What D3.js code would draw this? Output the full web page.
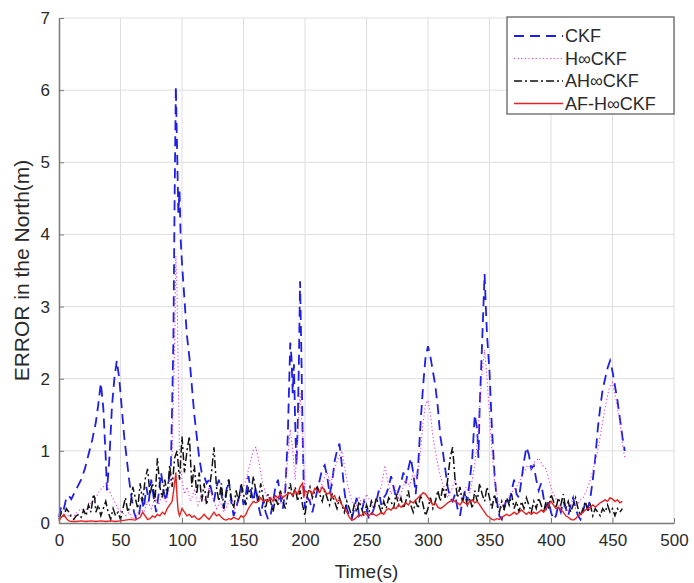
<!DOCTYPE html>
<html>
<head>
<meta charset="utf-8">
<script src="https://cdn.jsdelivr.net/npm/d3@7"></script>
<style>
  body { margin: 0; background: #fff; }
  text { font-family: "Liberation Sans", Arial, sans-serif; }
</style>
</head>
<body>
<div id="chart"></div>
<script>
// series: [time (s), error (m)]
const ckf = [[0,0.08],[2,0.25],[4,0.2],[6,0.35],[8,0.38],[10,0.33],[12,0.4],[15,0.5],[18,0.6],[21,0.75],[24,0.95],[27,1.15],[30,1.4],[32,1.65],[34,1.94],[36,1.6],[38,0.9],[39,0.45],[41,0.9],[43,1.6],[45,2.0],[47,2.25],[49,2.0],[51,1.6],[53,1.2],[55,0.9],[57,0.6],[59,0.35],[61,0.15],[63,0.05],[65,0.1],[67,0.35],[69,0.2],[71,0.5],[73,0.3],[75,0.6],[77,0.35],[79,0.15],[81,0.4],[83,0.7],[85,0.45],[87,0.3],[89,0.55],[91,0.8],[93,2.5],[94,4.5],[95,6.05],[96,5.2],[97,4.3],[98,4.6],[99,3.9],[100,3.6],[102,3.1],[104,2.6],[106,2.3],[108,1.9],[110,1.5],[112,1.2],[114,0.9],[116,0.7],[118,0.65],[120,0.55],[122,0.6],[124,0.45],[126,0.3],[128,0.5],[130,0.6],[132,0.4],[134,0.2],[136,0.45],[138,0.6],[140,0.3],[142,0.1],[144,0.2],[146,0.35],[148,0.5],[150,0.25],[152,0.4],[154,0.65],[156,0.45],[158,0.3],[160,0.5],[162,0.25],[164,0.1],[166,0.3],[168,0.15],[170,0.05],[172,0.1],[174,0.3],[176,0.5],[178,0.6],[180,0.35],[182,0.2],[184,0.45],[186,1.2],[188,2.5],[189,2.3],[190,1.8],[191,2.2],[192,1.4],[193,0.8],[194,1.3],[195,2.2],[196,3.35],[197,2.4],[198,1.3],[199,0.5],[200,0.2],[202,0.35],[204,0.3],[206,0.15],[208,0.3],[210,0.45],[212,0.6],[214,0.75],[216,0.8],[218,0.65],[220,0.4],[222,0.55],[224,0.85],[226,1.0],[228,1.1],[230,0.8],[232,0.45],[234,0.2],[236,0.1],[238,0.05],[240,0.2],[242,0.35],[244,0.1],[246,0.15],[248,0.3],[250,0.2],[252,0.05],[254,0.1],[256,0.2],[258,0.3],[260,0.45],[262,0.25],[264,0.35],[266,0.4],[268,0.5],[270,0.65],[272,0.5],[274,0.35],[276,0.45],[278,0.55],[280,0.7],[282,0.55],[284,0.75],[286,0.9],[288,0.7],[290,0.4],[292,0.8],[294,1.4],[296,1.9],[298,2.3],[300,2.45],[302,2.3],[304,2.1],[306,1.9],[308,1.6],[310,1.2],[312,1.0],[314,0.75],[316,0.5],[318,0.35],[320,0.3],[322,0.4],[324,0.2],[326,0.1],[328,0.3],[330,0.45],[332,0.3],[334,0.6],[336,0.9],[338,1.5],[340,1.3],[341,0.9],[342,1.6],[344,2.5],[346,3.45],[347,3.0],[348,2.6],[350,2.1],[352,1.3],[354,0.7],[356,0.3],[358,0.1],[360,0.05],[362,0.2],[364,0.35],[366,0.3],[368,0.45],[370,0.6],[372,0.4],[374,0.35],[376,0.6],[378,0.85],[380,1.05],[382,0.95],[384,0.75],[386,0.8],[388,0.6],[390,0.45],[392,0.55],[394,0.35],[396,0.2],[398,0.3],[400,0.15],[402,0.05],[404,0.1],[406,0.25],[408,0.15],[410,0.3],[412,0.2],[414,0.1],[416,0.25],[418,0.35],[420,0.2],[422,0.1],[424,0.05],[426,0.15],[428,0.3],[430,0.2],[432,0.35],[434,0.6],[436,0.9],[438,1.3],[440,1.6],[442,1.85],[444,2.0],[446,2.15],[448,2.25],[450,2.1],[452,1.9],[454,1.7],[456,1.45],[458,1.2],[460,1.0]];

const hinf = [[0,0.05],[3,0.1],[6,0.08],[9,0.12],[12,0.1],[15,0.15],[18,0.2],[21,0.15],[24,0.25],[27,0.3],[30,0.35],[33,0.45],[36,0.5],[39,0.55],[42,0.4],[45,0.3],[48,0.2],[51,0.15],[54,0.1],[57,0.15],[60,0.05],[63,0.1],[66,0.2],[69,0.15],[72,0.3],[75,0.2],[78,0.35],[81,0.25],[84,0.4],[87,0.3],[90,0.5],[92,1.0],[94,2.5],[95,3.7],[96,3.2],[97,2.0],[98,1.0],[100,0.6],[102,0.4],[104,0.5],[107,0.3],[110,0.45],[113,0.25],[116,0.4],[119,0.3],[122,0.5],[125,0.35],[128,0.2],[131,0.3],[134,0.15],[137,0.25],[140,0.35],[143,0.2],[146,0.3],[149,0.45],[152,0.6],[155,0.8],[158,1.0],[160,1.05],[162,0.9],[165,0.6],[168,0.4],[171,0.3],[174,0.2],[177,0.35],[180,0.25],[183,0.4],[186,0.9],[188,1.3],[190,1.0],[192,0.6],[194,1.2],[196,1.8],[198,1.2],[200,0.4],[203,0.3],[206,0.35],[209,0.5],[212,0.45],[215,0.6],[218,0.7],[221,0.55],[224,0.75],[227,0.9],[230,1.0],[232,0.8],[235,0.5],[238,0.3],[241,0.2],[244,0.35],[247,0.25],[250,0.4],[253,0.3],[256,0.2],[259,0.35],[262,0.5],[265,0.8],[267,0.6],[270,0.4],[273,0.5],[276,0.35],[279,0.45],[282,0.6],[285,0.5],[288,0.7],[291,0.6],[294,1.0],[296,1.4],[298,1.65],[300,1.7],[302,1.5],[304,1.2],[307,0.9],[310,0.65],[313,0.5],[316,0.35],[319,0.45],[322,0.6],[325,0.45],[328,0.3],[331,0.5],[334,0.4],[337,0.7],[340,1.1],[342,1.6],[344,2.1],[346,2.4],[348,2.0],[350,1.5],[352,1.0],[354,0.6],[357,0.3],[360,0.2],[363,0.3],[366,0.35],[369,0.45],[372,0.5],[375,0.6],[378,0.7],[381,0.8],[384,0.75],[387,0.85],[390,0.9],[393,0.8],[396,0.75],[399,0.55],[402,0.4],[405,0.3],[408,0.2],[411,0.25],[414,0.15],[417,0.3],[420,0.2],[423,0.3],[426,0.35],[429,0.45],[432,0.6],[435,0.8],[438,1.0],[441,1.3],[444,1.6],[447,1.85],[450,1.95],[453,1.7],[456,1.4],[458,1.1],[460,0.9]];

const ahinf = [[0,0.05],[2,0.15],[4,0.1],[6,0.2],[8,0.15],[10,0.08],[12,0.05],[14,0.1],[16,0.12],[18,0.08],[20,0.18],[22,0.1],[24,0.25],[26,0.15],[28,0.4],[29,0.35],[30,0.15],[32,0.25],[34,0.1],[36,0.2],[38,0.3],[40,0.15],[42,0.05],[44,0.2],[46,0.1],[48,0.15],[50,0.05],[52,0.2],[54,0.35],[56,0.15],[58,0.25],[60,0.5],[62,0.35],[64,0.2],[66,0.55],[68,0.3],[70,0.6],[72,0.75],[74,0.4],[76,0.55],[78,0.3],[80,0.9],[82,0.5],[84,0.35],[86,0.6],[88,0.4],[90,0.8],[92,0.5],[94,0.9],[96,1.0],[98,0.6],[100,1.2],[102,0.7],[104,1.0],[106,1.2],[108,0.5],[110,0.8],[112,0.4],[114,0.7],[116,0.3],[118,0.55],[120,0.25],[122,0.45],[124,0.7],[126,1.05],[128,0.5],[130,0.3],[132,0.55],[134,0.2],[136,0.4],[138,0.6],[140,0.35],[142,0.2],[144,0.45],[146,0.3],[148,0.55],[150,0.4],[152,0.25],[154,0.5],[156,0.35],[158,0.65],[160,0.45],[162,0.3],[164,0.55],[166,0.35],[168,0.2],[170,0.4],[172,0.3],[174,0.15],[176,0.35],[178,0.25],[180,0.45],[182,0.3],[184,0.2],[186,0.4],[188,0.55],[190,0.35],[192,0.5],[194,0.3],[196,0.45],[198,0.25],[200,0.1],[202,0.4],[204,0.5],[206,0.35],[208,0.45],[210,0.5],[212,0.4],[214,0.3],[216,0.45],[218,0.35],[220,0.25],[222,0.4],[224,0.3],[226,0.2],[228,0.35],[230,0.25],[232,0.15],[234,0.3],[236,0.2],[238,0.1],[240,0.25],[242,0.15],[244,0.3],[246,0.2],[248,0.1],[250,0.25],[252,0.15],[254,0.3],[256,0.2],[258,0.35],[260,0.25],[262,0.15],[264,0.3],[266,0.2],[268,0.35],[270,0.3],[272,0.2],[274,0.4],[276,0.25],[278,0.35],[280,0.2],[282,0.3],[284,0.45],[286,0.25],[288,0.15],[290,0.3],[292,0.2],[294,0.4],[296,0.25],[298,0.1],[300,0.2],[302,0.35],[304,0.2],[306,0.3],[308,0.45],[310,0.3],[312,0.5],[314,0.35],[316,0.6],[318,0.9],[320,1.05],[322,0.6],[324,0.35],[326,0.5],[328,0.3],[330,0.4],[332,0.25],[334,0.35],[336,0.2],[338,0.45],[340,0.3],[342,0.55],[344,0.4],[346,0.3],[348,0.5],[350,0.35],[352,0.2],[354,0.4],[356,0.25],[358,0.15],[360,0.3],[362,0.2],[364,0.35],[366,0.25],[368,0.4],[370,0.2],[372,0.3],[374,0.15],[376,0.3],[378,0.2],[380,0.35],[382,0.25],[384,0.15],[386,0.3],[388,0.2],[390,0.35],[392,0.25],[394,0.15],[396,0.3],[398,0.2],[400,0.4],[402,0.3],[404,0.2],[406,0.35],[408,0.25],[410,0.4],[412,0.2],[414,0.3],[416,0.15],[418,0.25],[420,0.35],[422,0.2],[424,0.1],[426,0.2],[428,0.3],[430,0.15],[432,0.25],[434,0.1],[436,0.2],[438,0.15],[440,0.1],[442,0.2],[444,0.15],[446,0.25],[448,0.15],[450,0.2],[452,0.1],[454,0.2],[456,0.15],[458,0.2]];

const afhinf = [[0,0.03],[2,0.08],[4,0.12],[6,0.06],[8,0.03],[10,0.02],[14,0.02],[18,0.03],[22,0.02],[26,0.03],[30,0.02],[34,0.03],[38,0.02],[42,0.03],[46,0.02],[50,0.03],[54,0.04],[58,0.05],[62,0.04],[66,0.08],[68,0.15],[70,0.1],[72,0.05],[74,0.06],[76,0.1],[78,0.08],[80,0.12],[82,0.1],[84,0.15],[86,0.12],[88,0.2],[90,0.25],[92,0.3],[94,0.55],[95,0.7],[96,0.35],[97,0.15],[98,0.1],[100,0.2],[102,0.15],[104,0.1],[106,0.12],[108,0.08],[110,0.1],[112,0.06],[114,0.05],[116,0.08],[118,0.12],[120,0.08],[122,0.05],[124,0.1],[126,0.15],[128,0.1],[130,0.12],[132,0.08],[134,0.05],[136,0.04],[138,0.06],[140,0.05],[142,0.08],[144,0.06],[146,0.05],[148,0.1],[150,0.08],[152,0.12],[154,0.2],[156,0.25],[158,0.3],[160,0.28],[162,0.3],[164,0.35],[166,0.3],[168,0.32],[170,0.3],[172,0.35],[174,0.3],[176,0.38],[178,0.35],[180,0.4],[182,0.35],[184,0.38],[186,0.4],[188,0.42],[190,0.38],[192,0.45],[194,0.4],[196,0.5],[198,0.55],[199,0.35],[200,0.45],[202,0.42],[204,0.45],[206,0.4],[208,0.48],[210,0.45],[212,0.42],[214,0.5],[216,0.45],[218,0.4],[220,0.42],[222,0.35],[224,0.38],[226,0.3],[228,0.32],[230,0.25],[232,0.2],[234,0.15],[236,0.08],[238,0.04],[240,0.05],[242,0.08],[244,0.12],[246,0.1],[248,0.15],[250,0.12],[252,0.1],[254,0.14],[256,0.12],[258,0.1],[260,0.12],[262,0.15],[264,0.12],[266,0.18],[268,0.2],[270,0.18],[272,0.22],[274,0.2],[276,0.25],[278,0.22],[280,0.25],[282,0.28],[284,0.25],[286,0.3],[288,0.28],[290,0.32],[292,0.35],[294,0.38],[296,0.42],[298,0.4],[300,0.35],[302,0.3],[304,0.25],[306,0.28],[308,0.22],[310,0.2],[312,0.22],[314,0.25],[316,0.28],[318,0.3],[320,0.32],[322,0.3],[324,0.28],[326,0.25],[328,0.3],[330,0.28],[332,0.25],[334,0.3],[336,0.32],[338,0.28],[340,0.3],[342,0.25],[344,0.2],[346,0.15],[348,0.1],[350,0.08],[352,0.05],[354,0.04],[356,0.06],[358,0.05],[360,0.08],[362,0.1],[364,0.12],[366,0.1],[368,0.12],[370,0.15],[372,0.12],[374,0.15],[376,0.18],[378,0.15],[380,0.12],[382,0.15],[384,0.12],[386,0.15],[388,0.13],[390,0.15],[392,0.18],[394,0.15],[396,0.2],[398,0.25],[400,0.3],[402,0.25],[404,0.2],[406,0.22],[408,0.18],[410,0.15],[412,0.1],[414,0.08],[416,0.05],[418,0.04],[420,0.06],[422,0.1],[424,0.12],[426,0.15],[428,0.18],[430,0.2],[432,0.22],[434,0.25],[436,0.22],[438,0.25],[440,0.28],[442,0.3],[444,0.32],[446,0.3],[448,0.35],[450,0.33],[452,0.3],[454,0.32],[456,0.28],[458,0.3]];

const seriesNames = ["CKF", "H∞CKF", "AH∞CKF", "AF-H∞CKF"];
const xTicks = [0, 50, 100, 150, 200, 250, 300, 350, 400, 450, 500];
const yTicks = [0, 1, 2, 3, 4, 5, 6, 7];

const width = 694;
const height = 583;
const margin = { top: 18, right: 20, bottom: 60, left: 59 };

const x = d3.scaleLinear().domain([0, 500]).range([margin.left, width - margin.right]);
const y = d3.scaleLinear().domain([0, 7]).range([height - margin.bottom, margin.top]);

const svg = d3.select("#chart").append("svg")
    .attr("width", width)
    .attr("height", height);

// grid
svg.append("g")
    .selectAll("line")
    .data(xTicks.slice(1))
    .join("line")
    .attr("x1", d => x(d)).attr("x2", d => x(d))
    .attr("y1", y(0)).attr("y2", y(7))
    .attr("stroke", "#dedede");
svg.append("g")
    .selectAll("line")
    .data(yTicks.slice(1))
    .join("line")
    .attr("x1", x(0)).attr("x2", x(500))
    .attr("y1", d => y(d)).attr("y2", d => y(d))
    .attr("stroke", "#dedede");

// lines
const line = d3.line().x(d => x(d[0])).y(d => y(d[1]));
const styles = [
    { data: ckf, color: "#1e1ee6", w: 1.8, dash: "10,6" },
    { data: hinf, color: "#e040e0", w: 1.1, dash: "1.2,2.4" },
    { data: ahinf, color: "#111", w: 1.5, dash: "8,3,2,3" },
    { data: afhinf, color: "#e82020", w: 1.4, dash: null }
];
styles.forEach(s => {
    svg.append("path")
        .datum(s.data)
        .attr("fill", "none")
        .attr("stroke", s.color)
        .attr("stroke-width", s.w)
        .attr("stroke-dasharray", s.dash)
        .attr("d", line);
});

// axes
const xAxis = svg.append("g")
    .attr("transform", `translate(0,${y(0)})`)
    .call(d3.axisBottom(x).tickValues(xTicks).tickFormat(d3.format("d"))
        .tickSizeInner(-5).tickSizeOuter(0).tickPadding(11));
const yAxis = svg.append("g")
    .attr("transform", `translate(${x(0)},0)`)
    .call(d3.axisLeft(y).tickValues(yTicks).tickFormat(d3.format("d"))
        .tickSizeInner(-5).tickSizeOuter(0).tickPadding(9));
[xAxis, yAxis].forEach(a => {
    a.select(".domain").attr("stroke", "#7a7a7a").attr("stroke-width", 1.5);
    a.selectAll(".tick line").attr("stroke", "#7a7a7a");
    a.selectAll(".tick text")
        .attr("fill", "#2a2a2a")
        .style("font-size", "17px")
        .style("font-family", "'Liberation Sans', Arial, sans-serif");
});

svg.append("text")
    .attr("x", (x(0) + x(500)) / 2)
    .attr("y", 578)
    .attr("text-anchor", "middle")
    .attr("fill", "#2a2a2a")
    .style("font-size", "19px")
    .text("Time(s)");

svg.append("text")
    .attr("transform", `translate(29,${(y(0) + y(7)) / 2}) rotate(-90)`)
    .attr("text-anchor", "middle")
    .attr("fill", "#2a2a2a")
    .style("font-size", "21px")
    .text("ERROR in the North(m)");

// legend
const lg = svg.append("g").attr("transform", "translate(507,17)");
lg.append("rect")
    .attr("width", 167).attr("height", 97)
    .attr("fill", "#fff")
    .attr("stroke", "#555")
    .attr("stroke-width", 1.2);
styles.forEach((s, i) => {
    const yy = 19 + i * 22.5;
    lg.append("line")
        .attr("x1", 7).attr("x2", 56)
        .attr("y1", yy).attr("y2", yy)
        .attr("stroke", s.color)
        .attr("stroke-width", s.w)
        .attr("stroke-dasharray", s.dash);
    lg.append("text")
        .attr("x", 58).attr("y", yy + 6)
        .attr("fill", "#2a2a2a")
        .style("font-size", "18px")
        .text(seriesNames[i]);
});
</script>
</body>
</html>
